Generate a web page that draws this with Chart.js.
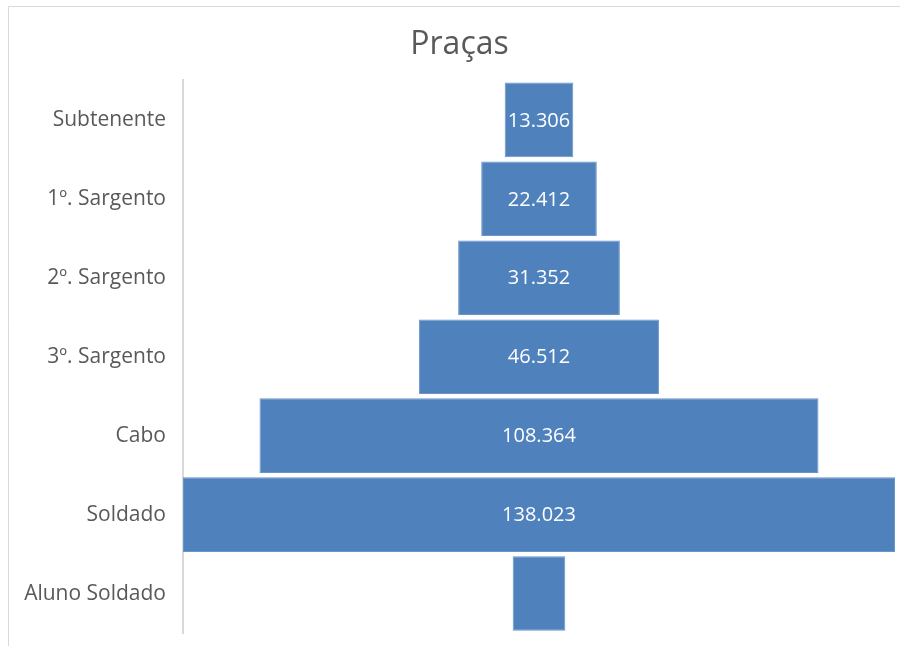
<!DOCTYPE html>
<html>
<head>
<meta charset="utf-8">
<script src="https://cdn.jsdelivr.net/npm/chart.js@4"></script>
<style>
  html, body { margin: 0; padding: 0; background: #fff; }
  #wrap { width: 900px; height: 646px; }
</style>
</head>
<body>
<div id="wrap"><canvas id="funnelChart" width="900" height="646"></canvas></div>
<script>
const categories = ['Subtenente', '1º. Sargento', '2º. Sargento', '3º. Sargento', 'Cabo', 'Soldado', 'Aluno Soldado'];
const values = [13306, 22412, 31352, 46512, 108364, 138023, 10200];

const maxValue = Math.max(...values);
const mid = maxValue / 2;
// funnel: each bar floats around the middle
const floating = values.map(v => [mid - v / 2, mid + v / 2]);

function formatPt(n) {
    return String(n).replace(/\B(?=(\d{3})+(?!\d))/g, '.');
}

const framePlugin = {
    id: 'frame',
    beforeDraw(chart) {
        const ctx = chart.ctx;
        ctx.save();
        ctx.fillStyle = '#ffffff';
        ctx.fillRect(0, 0, chart.width, chart.height);
        ctx.strokeStyle = '#d9d9d9';
        ctx.lineWidth = 1;
        ctx.beginPath();
        ctx.moveTo(8.5, chart.height);
        ctx.lineTo(8.5, 6.5);
        ctx.lineTo(chart.width, 6.5);
        ctx.stroke();
        ctx.restore();
    }
};

const labelPlugin = {
    id: 'barLabels',
    afterDatasetsDraw(chart) {
        const ctx = chart.ctx;
        const meta = chart.getDatasetMeta(0);
        ctx.save();
        ctx.font = '20px "Open Sans", sans-serif';
        ctx.fillStyle = '#ffffff';
        ctx.textAlign = 'center';
        ctx.textBaseline = 'middle';
        meta.data.forEach((bar, i) => {
            const text = formatPt(values[i]);
            const w = Math.abs(bar.x - bar.base);
            if (ctx.measureText(text).width + 2 > w) return;
            ctx.fillText(text, (bar.x + bar.base) / 2, bar.y + 1);
        });
        ctx.restore();
    }
};

function initializeFunnelChart() {
    const ctx = document.getElementById('funnelChart').getContext('2d');
    new Chart(ctx, {
        type: 'bar',
        data: {
            labels: categories,
            datasets: [{
                data: floating,
                backgroundColor: '#4f81bd',
                borderColor: '#6a95c9',
                borderWidth: 1,
                borderSkipped: false,
                categoryPercentage: 1,
                barPercentage: 0.945
            }]
        },
        options: {
            indexAxis: 'y',
            responsive: false,
            animation: false,
            layout: {
                padding: { left: 24, right: 5, top: 0, bottom: 13 }
            },
            plugins: {
                legend: { display: false },
                tooltip: { enabled: false },
                title: {
                    display: true,
                    text: 'Praças',
                    color: '#595959',
                    font: { family: '"Open Sans", sans-serif', size: 32, weight: 'normal' },
                    padding: { top: 26, bottom: 16 }
                }
            },
            scales: {
                x: {
                    display: false,
                    min: 0,
                    max: maxValue
                },
                y: {
                    afterFit(scale) {
                        scale.width = 159;
                        scale.paddingTop = 0;
                        scale.paddingBottom = 0;
                    },
                    grid: { display: false, drawTicks: false },
                    border: { display: true, color: '#d9d9d9', width: 2 },
                    ticks: {
                        color: '#595959',
                        padding: 17,
                        font: { family: '"Open Sans", sans-serif', size: 21 }
                    }
                }
            }
        },
        plugins: [framePlugin, labelPlugin]
    });
}

document.addEventListener('DOMContentLoaded', initializeFunnelChart);
</script>
</body>
</html>
